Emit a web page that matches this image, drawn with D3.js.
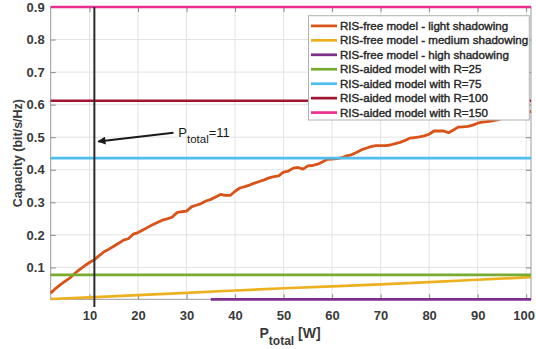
<!DOCTYPE html>
<html>
<head>
<meta charset="utf-8">
<script src="https://cdn.jsdelivr.net/npm/d3@7"></script>
<style>
  html, body { margin: 0; padding: 0; background: #fff; }
  svg { display: block; font-family: "Liberation Sans", Arial, Helvetica, sans-serif; }
</style>
</head>
<body>
<div id="chart"></div>
<script>
// sample points of the RIS-free curves (P_total in W)
const lightX = d3.range(2, 102);
const lightShadowing = [
  0.021, 0.035, 0.047, 0.058, 0.068, 0.082, 0.094, 0.105, 0.115, 0.124,
  0.136, 0.148, 0.156, 0.165, 0.174, 0.184, 0.188, 0.202, 0.207, 0.215,
  0.223, 0.231, 0.238, 0.245, 0.249, 0.254, 0.268, 0.271, 0.273, 0.286,
  0.291, 0.296, 0.304, 0.309, 0.316, 0.324, 0.321, 0.321, 0.334, 0.344,
  0.348, 0.353, 0.359, 0.364, 0.369, 0.375, 0.379, 0.381, 0.393, 0.396,
  0.405, 0.407, 0.402, 0.412, 0.413, 0.417, 0.424, 0.432, 0.433, 0.434,
  0.437, 0.443, 0.446, 0.453, 0.461, 0.466, 0.471, 0.474, 0.474, 0.474,
  0.476, 0.480, 0.484, 0.490, 0.497, 0.499, 0.501, 0.504, 0.509, 0.519,
  0.519, 0.519, 0.514, 0.522, 0.531, 0.532, 0.533, 0.537, 0.543, 0.546,
  0.548, 0.550, 0.553, 0.558, 0.562, 0.566, 0.570, 0.574, 0.577, 0.579
];
const mediumX = [2, 10, 20, 30, 40, 50, 60, 70, 80, 90, 101];
const mediumShadowing = [0.003, 0.008, 0.015, 0.022, 0.029, 0.036, 0.042, 0.048, 0.055, 0.062, 0.070];
const highX = [35, 101];
const highShadowing = [0.002, 0.002];

// RIS-aided constant capacities
const risX = [2, 101];
const risValues = [0.077, 0.436, 0.612, 0.9];

const legendLabels = [
  "RIS-free model - light shadowing",
  "RIS-free model - medium shadowing",
  "RIS-free model - high shadowing",
  "RIS-aided model with R=25",
  "RIS-aided model with R=75",
  "RIS-aided model with R=100",
  "RIS-aided model with R=150"
];
const colors = ["#D95319", "#EDB120", "#7E2F8E", "#77AC30", "#4DBEEE", "#A2142F", "#EC2D8E"];

const xTicks = [10, 20, 30, 40, 50, 60, 70, 80, 90, 100];
const yTicks = [0.1, 0.2, 0.3, 0.4, 0.5, 0.6, 0.7, 0.8, 0.9];
const markerX = 11;

const W = 536, H = 349;
const margin = {top: 7, right: 5, bottom: 49.7, left: 50.7};
const width = W - margin.left - margin.right;
const height = H - margin.top - margin.bottom;

const svg = d3.select("#chart").append("svg")
  .attr("width", W)
  .attr("height", H);

const g = svg.append("g")
  .attr("transform", "translate(" + margin.left + "," + margin.top + ")");

const x = d3.scaleLinear().domain([2, 101]).range([0, width]);
const y = d3.scaleLinear().domain([0.002, 0.9]).range([height, 0]);

// grid
g.append("g")
  .selectAll("line")
  .data(xTicks)
  .enter()
  .append("line")
  .attr("x1", d => x(d)).attr("x2", d => x(d))
  .attr("y1", 0).attr("y2", height)
  .style("stroke", "#e3e3e3");

g.append("g")
  .selectAll("line")
  .data(yTicks)
  .enter()
  .append("line")
  .attr("x1", 0).attr("x2", width)
  .attr("y1", d => y(d)).attr("y2", d => y(d))
  .style("stroke", "#e3e3e3");

// box and axes
g.append("rect")
  .attr("width", width)
  .attr("height", height)
  .style("fill", "none")
  .style("stroke", "#9a9a9a");

const styleAxis = sel => {
  sel.select(".domain").remove();
  sel.selectAll(".tick line").style("stroke", "#8a8a8a");
  sel.selectAll(".tick text")
    .style("font-size", "13px")
    .style("font-weight", "bold")
    .style("fill", "#3a3a3a");
};

const xAxis = g.append("g")
  .attr("transform", "translate(0," + height + ")")
  .call(d3.axisBottom(x).tickValues(xTicks).tickSize(-5).tickPadding(11).tickFormat(d3.format("d")))
  .call(styleAxis);
// last label sits on the window edge, keep it inside
xAxis.selectAll(".tick text").filter(d => d === 100).attr("dx", -2.5);

g.append("g")
  .call(d3.axisTop(x).tickValues(xTicks).tickSize(-5).tickFormat(""))
  .call(styleAxis);

g.append("g")
  .call(d3.axisLeft(y).tickValues(yTicks).tickSize(-5).tickPadding(6).tickFormat(d3.format(".1f")))
  .call(styleAxis);

g.append("g")
  .attr("transform", "translate(" + width + ",0)")
  .call(d3.axisRight(y).tickValues(yTicks).tickSize(-5).tickFormat(""))
  .call(styleAxis);

// series
const line = d3.line().x(d => x(d[0])).y(d => y(d[1]));

const series = [
  d3.zip(lightX, lightShadowing),
  d3.zip(mediumX, mediumShadowing),
  d3.zip(highX, highShadowing)
];
risValues.forEach(v => series.push(risX.map(px => [px, v])));

series.forEach((s, i) => {
  g.append("path")
    .datum(s)
    .attr("d", line)
    .style("fill", "none")
    .style("stroke", colors[i])
    .style("stroke-width", i === 0 ? 2.8 : 2.7)
    .style("stroke-linejoin", "round");
});

// vertical marker at P_total = 11
g.append("line")
  .attr("x1", x(markerX)).attr("x2", x(markerX))
  .attr("y1", y(0.9)).attr("y2", y(-0.022))
  .style("stroke", "#2b2b2b")
  .style("stroke-width", 2);

// annotation arrow
svg.append("defs").append("marker")
  .attr("id", "arrow")
  .attr("viewBox", "0 0 10 10")
  .attr("refX", 9).attr("refY", 5)
  .attr("markerWidth", 5).attr("markerHeight", 4)
  .attr("markerUnits", "strokeWidth")
  .attr("orient", "auto")
  .append("path")
  .attr("d", "M0,0 L10,5 L0,10 z")
  .style("fill", "#1a1a1a");

g.append("line")
  .attr("x1", x(27.3)).attr("y1", y(0.514))
  .attr("x2", x(11.8)).attr("y2", y(0.487))
  .style("stroke", "#1a1a1a")
  .style("stroke-width", 2)
  .attr("marker-end", "url(#arrow)");

const note = g.append("text")
  .attr("x", x(28.3))
  .attr("y", y(0.502))
  .style("font-size", "13px")
  .style("fill", "#1a1a1a");
note.append("tspan").text("P");
note.append("tspan").attr("dy", 6).style("font-size", "11.5px").text("total");
note.append("tspan").attr("dy", -6).text("=11");

// legend
const legend = g.append("g")
  .attr("transform", "translate(" + (308.5 - margin.left) + "," + (15.7 - margin.top) + ")");

legend.append("rect")
  .attr("width", 220.8)
  .attr("height", 104.3)
  .style("fill", "#fff")
  .style("stroke", "#b0b0b0");

legendLabels.forEach((label, i) => {
  const cy = 10.2 + i * 14.45;
  legend.append("line")
    .attr("x1", 2.5).attr("x2", 28.5)
    .attr("y1", cy).attr("y2", cy)
    .style("stroke", colors[i])
    .style("stroke-width", 2.7);
  legend.append("text")
    .attr("x", 31.5)
    .attr("y", cy + 4)
    .style("font-size", "11.6px")
    .style("fill", "#262626")
    .style("stroke", "#262626")
    .style("stroke-width", 0.4)
    .text(label);
});

// axis labels
svg.append("text")
  .attr("transform", "translate(21.5," + (margin.top + height / 2) + ") rotate(-90)")
  .attr("text-anchor", "middle")
  .style("font-size", "12.5px")
  .style("font-weight", "bold")
  .style("fill", "#3a3a3a")
  .text("Capacity (bit/s/Hz)");

const xl = svg.append("text")
  .attr("x", 259.5)
  .attr("y", 337.5)
  .style("font-size", "14px")
  .style("font-weight", "bold")
  .style("fill", "#3a3a3a");
xl.append("tspan").text("P");
xl.append("tspan").attr("dy", 7).style("font-size", "12px").text("total");
xl.append("tspan").attr("dy", -7).text(" [W]");
</script>
</body>
</html>
